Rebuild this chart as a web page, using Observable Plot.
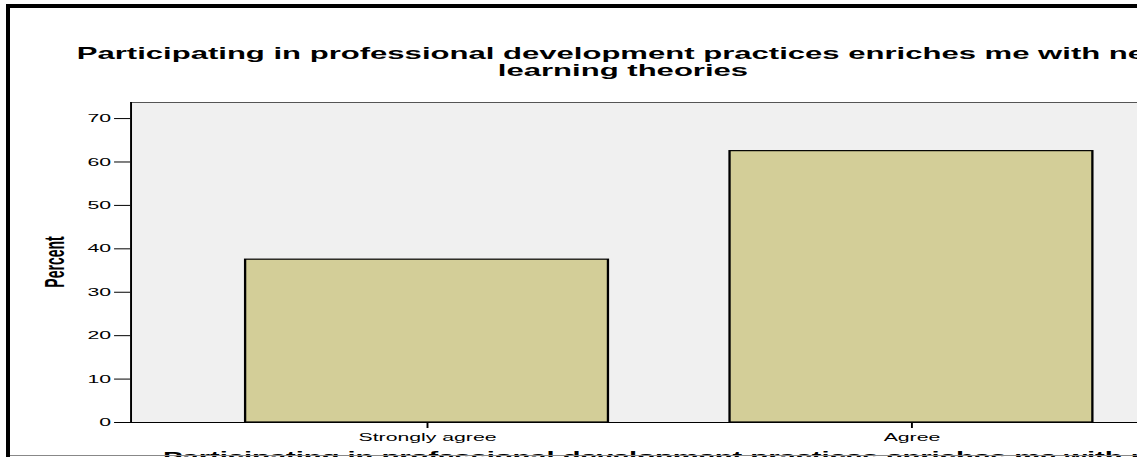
<!DOCTYPE html>
<html><head><meta charset="utf-8">
<script src="https://cdn.jsdelivr.net/npm/d3@7"></script>
<script src="https://cdn.jsdelivr.net/npm/@observablehq/plot@0.6"></script>
<style>
html,body{margin:0;padding:0;background:#fff;overflow:hidden;width:1137px;height:457px;}
#wrap{position:absolute;left:0;top:0;transform-origin:0 0;transform:scaleX(1.93);}
.bl{position:absolute;background:#000;}
</style></head><body>
<div id="wrap"></div>
<div class="bl" style="left:6px;top:4px;width:4px;height:460px"></div>
<div class="bl" style="left:6px;top:4px;width:1140px;height:4px"></div>
<div class="bl" style="left:10px;top:455px;width:1140px;height:1px;background:#888"></div>
<script>
const categories = ["Strongly agree", "Agree"];
const percents = [37.5, 62.5];
const yTicks = [0, 10, 20, 30, 40, 50, 60, 70];
const titleLines = ["Participating in professional development practices enriches me with new", "learning theories"];
const xLabel = "Participating in professional development practices enriches me with new learning theories";
const yLabel = "Percent";

const data = categories.map((c, i) => ({category: c, percent: percents[i]}));
const W = 646, H = 480;
const yMax = 73.7;
const font = "'Liberation Sans', Arial, sans-serif";

const chart = Plot.plot({
  width: W, height: H,
  marginLeft: 67.4, marginRight: 19.6, marginTop: 102, marginBottom: 58,
  style: {fontFamily: font, fontSize: "11px", background: "transparent", color: "#000", overflow: "visible"},
  x: {domain: categories, paddingInner: 0.25, paddingOuter: 0.237},
  y: {domain: [0, yMax]},
  marks: [
    Plot.frame({fill: "#f0f0f0", stroke: null}),
    Plot.frame({anchor: "top", stroke: "#555"}),
    Plot.barY(data, {x: "category", y: "percent", fill: "#d3ce98", stroke: "#000", strokeWidth: 1.2}),
    Plot.frame({anchor: "left", stroke: "#000"}),
    Plot.frame({anchor: "bottom", stroke: "#000"}),
    Plot.axisY({ticks: yTicks, tickSize: 8.3, tickPadding: 2, label: null, stroke: "#000", fill: "#000"}),
    Plot.axisX({tickSize: 6, tickPadding: 5, label: null, stroke: "#000", fill: "#000"})
  ]
});

const svg = d3.select(chart);
const cx = 322.8;
const t = svg.append("text")
  .attr("text-anchor", "middle")
  .attr("font-family", font)
  .attr("font-weight", "bold")
  .attr("font-size", 16.1)
  .attr("fill", "#000");
titleLines.forEach((line, i) => {
  t.append("tspan").attr("x", cx).attr("y", 59 + i * 17).text(line);
});
svg.append("text")
  .attr("x", 84.5).attr("y", 462)
  .attr("text-anchor", "start")
  .attr("font-family", font)
  .attr("font-weight", "bold")
  .attr("font-size", 15.1)
  .attr("fill", "#000")
  .text(xLabel);
svg.append("text")
  .attr("transform", "translate(33,262) rotate(-90)")
  .attr("text-anchor", "middle")
  .attr("font-family", font)
  .attr("font-weight", "bold")
  .attr("font-size", 14)
  .attr("fill", "#000")
  .text(yLabel);

document.getElementById("wrap").appendChild(chart);
</script>
</body></html>
